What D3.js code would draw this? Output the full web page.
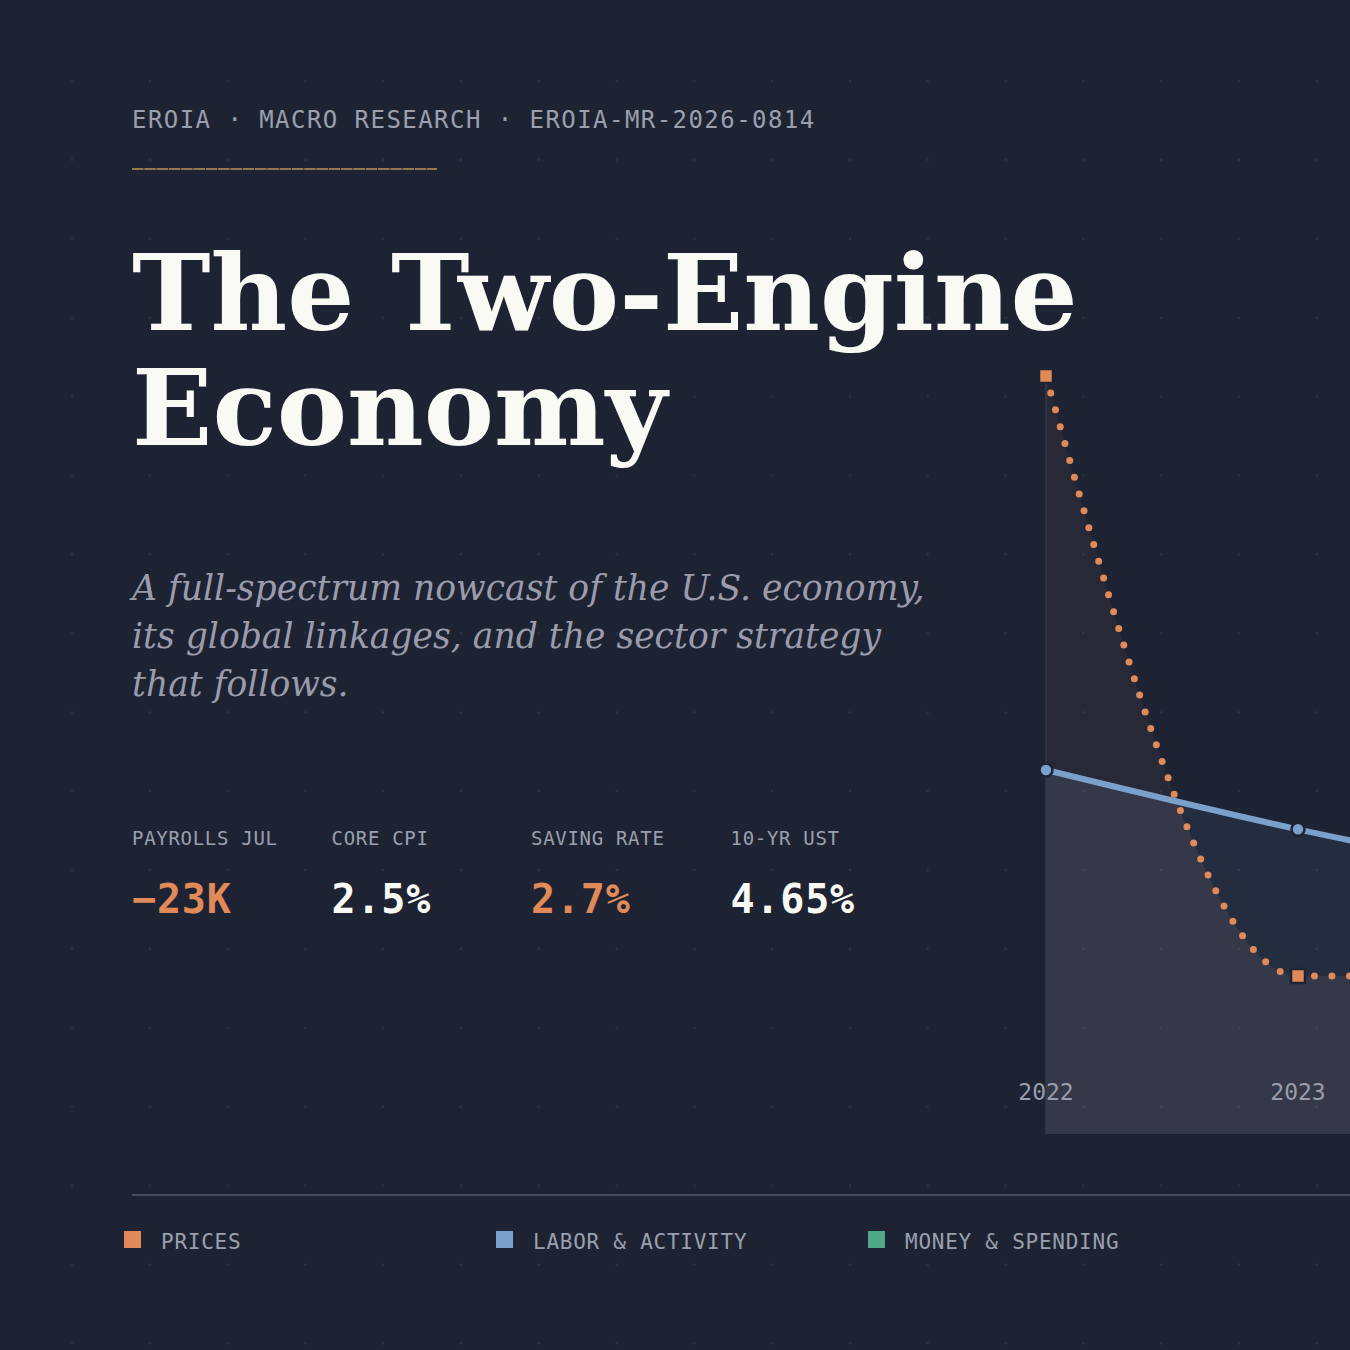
<!DOCTYPE html>
<html><head><meta charset="utf-8">
<script src="https://cdn.jsdelivr.net/npm/d3@7"></script>
<style>body{margin:0;background:#1e2333}</style></head>
<body><script>
const years=[2022,2023,2024];
const prices=[6.5,2.0,2.0];
const labor=[3.545,3.1,2.72];
const stats=[{l:"PAYROLLS JUL",v:"\u221223K",c:"#e08a5a"},{l:"CORE CPI",v:"2.5%",c:"#fafaf5"},{l:"SAVING RATE",v:"2.7%",c:"#e08a5a"},{l:"10-YR UST",v:"4.65%",c:"#fafaf5"}];
const legend=[{n:"PRICES",c:"#e08a5a"},{n:"LABOR & ACTIVITY",c:"#7aa0cc"},{n:"MONEY & SPENDING",c:"#4fa886"}];
const W=1350,H=1350;
const svg=d3.select("body").append("svg").attr("width",W).attr("height",H);
svg.append("rect").attr("width",W).attr("height",H).attr("fill","#1e2333");
const g0=svg.append("g");
for(let i=0;i<18;i++)for(let j=0;j<17;j++)g0.append("circle").attr("cx",72+i*77.8).attr("cy",81+j*78.9).attr("r",1.3).attr("fill","#2b3142");
const x=d3.scaleLinear().domain([2022,2023]).range([1046,1298]);
const y=d3.scaleLinear().domain([2,6.5]).range([976,376]);
const bottom=1134;
const c=svg.append("g");
const cur=d3.curveMonotoneX;
const pd=years.map((yr,i)=>({yr,p:prices[i],l:labor[i]}));
c.append("path").datum(pd).attr("fill","rgba(230,150,120,0.05)").attr("d",d3.area().x(d=>x(d.yr)).y0(bottom).y1(d=>y(d.p)).curve(cur));
c.append("path").datum(pd).attr("fill","rgba(110,150,220,0.08)").attr("d",d3.area().x(d=>x(d.yr)).y0(bottom).y1(d=>y(d.l)).curve(cur));
svg.append("clipPath").attr("id","cp").append("path").datum(pd).attr("d",d3.area().x(d=>x(d.yr)).y0(bottom).y1(d=>y(d.p)).curve(cur));
c.append("path").datum(pd).attr("clip-path","url(#cp)").attr("fill","rgba(200,205,220,0.05)").attr("d",d3.area().x(d=>x(d.yr)).y0(bottom).y1(d=>y(d.l)).curve(cur));
c.append("line").attr("x1",1046).attr("x2",1046).attr("y1",376).attr("y2",bottom).attr("stroke","#363a48").attr("stroke-width",1.5);
c.append("path").datum(pd).attr("fill","none").attr("stroke","#7aa0cc").attr("stroke-width",6).attr("d",d3.line().x(d=>x(d.yr)).y(d=>y(d.l)).curve(cur));
c.append("path").datum(pd).attr("fill","none").attr("stroke","#e08a5a").attr("stroke-width",7).attr("stroke-linecap","round").attr("stroke-dasharray","0 17.5").attr("d",d3.line().x(d=>x(d.yr)).y(d=>y(d.p)).curve(cur));
pd.forEach(d=>{
 c.append("circle").attr("cx",x(d.yr)).attr("cy",y(d.l)).attr("r",6.5).attr("fill","#7aa0cc").attr("stroke","#1e2333").attr("stroke-width",2.5);
 c.append("rect").attr("x",x(d.yr)-7).attr("y",y(d.p)-7).attr("width",14).attr("height",14).attr("fill","#e08a5a").attr("stroke","#1e2333").attr("stroke-width",2.5);
});
years.filter(yr=>x(yr)+40<W).forEach(yr=>c.append("text").attr("x",x(yr)).attr("y",1100).attr("text-anchor","middle").attr("font-family","DejaVu Sans Mono").attr("font-size",23).attr("fill","#9a9eab").text(yr));
const mono="DejaVu Sans Mono", serif="DejaVu Serif";
svg.append("text").attr("x",132).attr("y",128).attr("font-family",mono).attr("font-size",24).attr("letter-spacing",1.45).attr("fill","#9aa0ae").text("EROIA \u00b7 MACRO RESEARCH \u00b7 EROIA-MR-2026-0814");
svg.append("line").attr("x1",132).attr("x2",437).attr("y1",169).attr("y2",169).attr("stroke","#b8955a").attr("stroke-width",1.5).attr("stroke-dasharray","11.5 0.8");
["The Two-Engine","Economy"].forEach((t,i)=>svg.append("text").attr("x",132).attr("y",330+i*115).attr("font-family",serif).attr("font-weight","bold").attr("font-size",105.5).attr("fill","#fafaf5").text(t));
["A full-spectrum nowcast of the U.S. economy,","its global linkages, and the sector strategy","that follows."].forEach((t,i)=>svg.append("text").attr("x",132).attr("y",600+i*48).attr("font-family",serif).attr("font-style","italic").attr("font-size",34.6).attr("fill","#9a9cad").text(t));
stats.forEach((s,i)=>{
 svg.append("text").attr("x",132+i*199.5).attr("y",845).attr("font-family",mono).attr("font-size",19).attr("letter-spacing",0.7).attr("fill","#9aa0ae").text(s.l);
 svg.append("text").attr("x",132+i*199.5).attr("y",913).attr("font-family",mono).attr("font-weight","bold").attr("font-size",40).attr("letter-spacing",0.8).attr("fill",s.c).text(s.v);
});
svg.append("line").attr("x1",132).attr("x2",1350).attr("y1",1195).attr("y2",1195).attr("stroke","#484d5c").attr("stroke-width",2);
legend.forEach((l,i)=>{
 const lx=124+i*372;
 svg.append("rect").attr("x",lx).attr("y",1231).attr("width",17).attr("height",17).attr("fill",l.c);
 svg.append("text").attr("x",lx+37).attr("y",1249).attr("font-family",mono).attr("font-size",21).attr("letter-spacing",0.75).attr("fill","#9aa0ae").text(l.n);
});
</script></body></html>
